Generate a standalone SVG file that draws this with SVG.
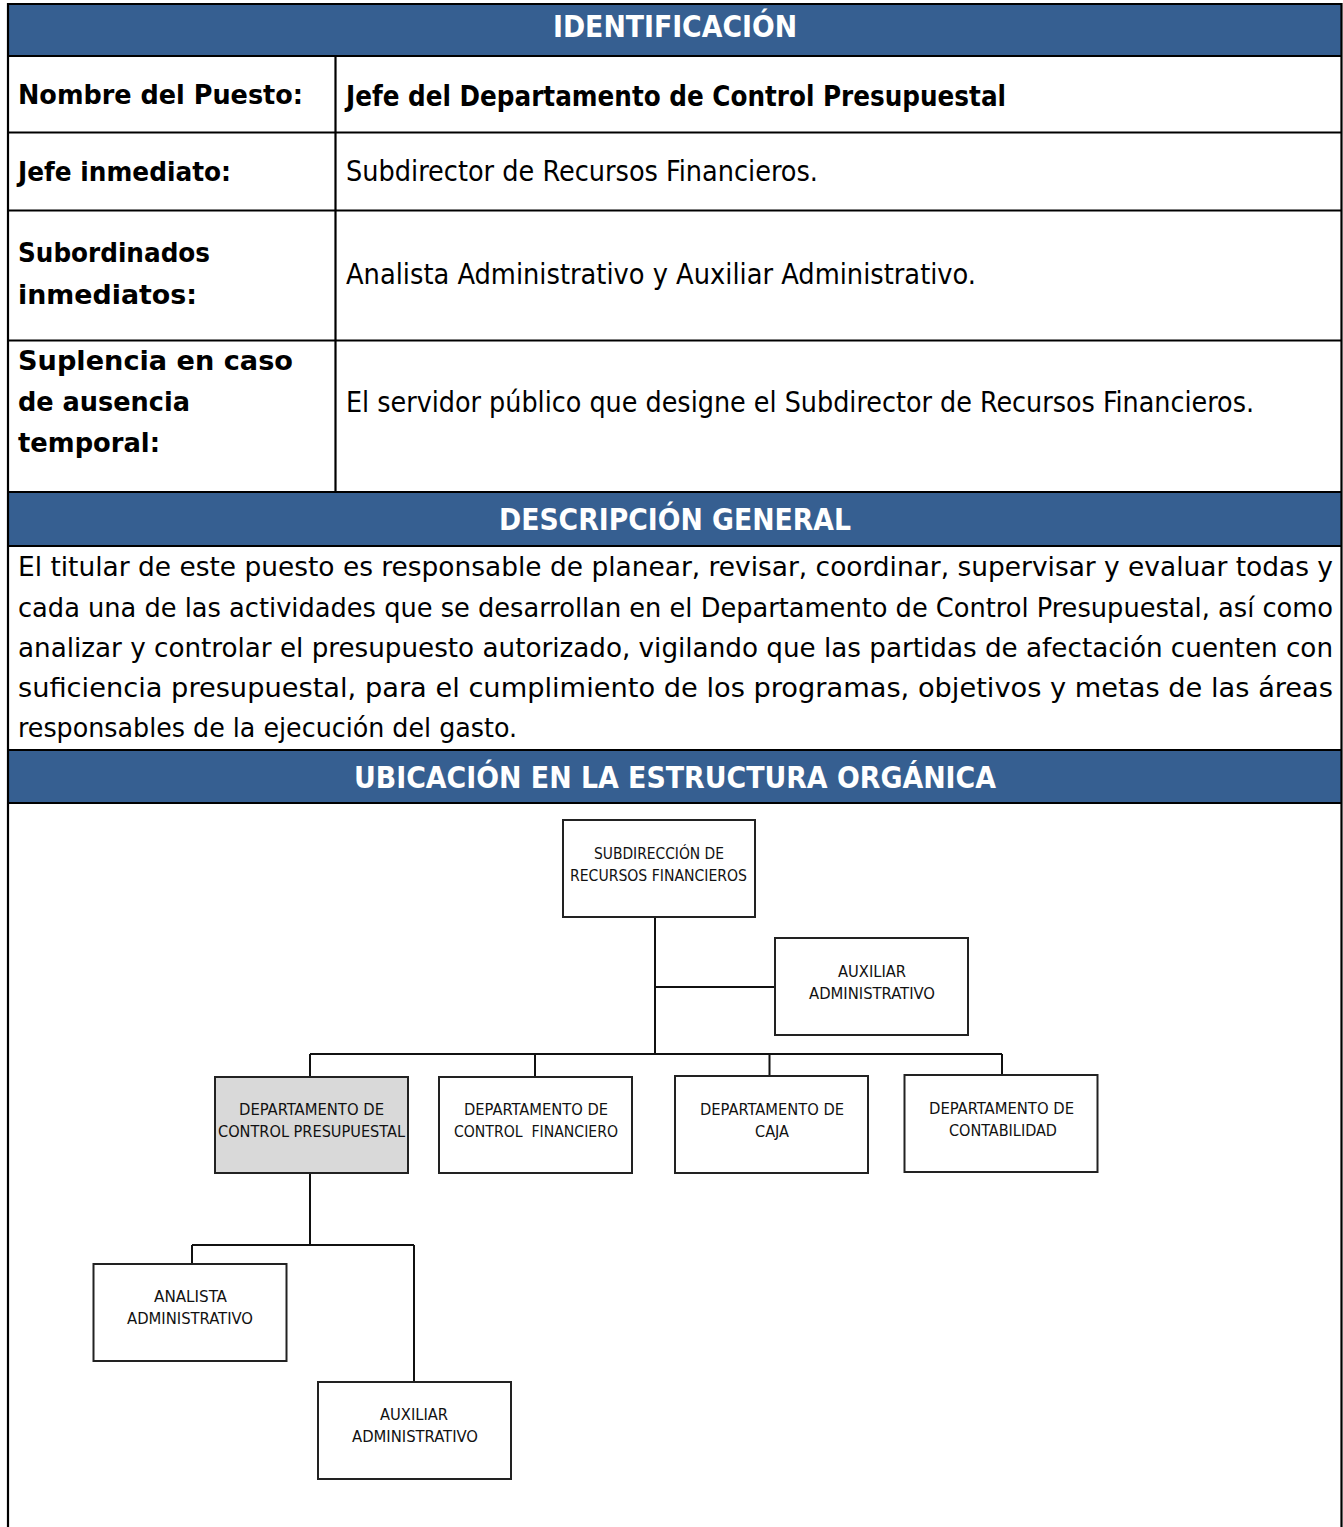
<svg xmlns="http://www.w3.org/2000/svg" width="1343" height="1527" viewBox="0 0 1343 1527">
<style>
.band{fill:#365F91}
.grid{stroke:#000;stroke-width:2.2;fill:none}
.hd{font-family:"DejaVu Sans Condensed","DejaVu Sans",sans-serif;font-weight:bold;font-size:31px;fill:#fff}
.lbl{font-family:"DejaVu Sans","Liberation Sans",sans-serif;font-weight:bold;font-size:27px;fill:#000}
.val{font-family:"Liberation Sans Narrow","DejaVu Sans Condensed",sans-serif;font-size:29px;fill:#000}
.desc{font-family:"Liberation Sans Narrow","DejaVu Sans Condensed",sans-serif;font-size:27px;fill:#000}
.valb{font-family:"DejaVu Sans Condensed","DejaVu Sans",sans-serif;font-weight:bold;font-size:28px;fill:#000}
.box{fill:#fff;stroke:#222;stroke-width:2}
.sel{fill:#D9D9D9}
.bt{font-family:"Liberation Sans Narrow","DejaVu Sans Condensed",sans-serif;font-size:16px;fill:#111}
.con{stroke:#111;stroke-width:2;fill:none}
</style>
<rect width="1343" height="1527" fill="#fff"/>
<g id="table">
<rect class="band" x="8" y="4" width="1333" height="52"/>
<rect class="band" x="8" y="492" width="1333" height="54"/>
<rect class="band" x="8" y="750" width="1333" height="53"/>
<path class="grid" d="M8,4H1341.5M8,56H1341.5M8,132.5H1341.5M8,210.5H1341.5M8,340.5H1341.5M8,492H1341.5M8,546H1341.5M8,750H1341.5M8,803H1341.5M335.5,56V492"/>
<path class="grid" stroke-width="2.6" d="M8,3V1527M1341.5,3V1527"/>
<text class="hd" x="553" y="37" textLength="244" lengthAdjust="spacingAndGlyphs">IDENTIFICACIÓN</text>
<text class="lbl" x="18" y="104" textLength="285" lengthAdjust="spacingAndGlyphs">Nombre del Puesto:</text>
<text class="valb" x="346" y="106" textLength="660" lengthAdjust="spacingAndGlyphs">Jefe del Departamento de Control Presupuestal</text>
<text class="lbl" x="18" y="181" textLength="213" lengthAdjust="spacingAndGlyphs">Jefe inmediato:</text>
<text class="val" x="346" y="181" textLength="472" lengthAdjust="spacingAndGlyphs">Subdirector de Recursos Financieros.</text>
<text class="lbl" x="18" y="262" textLength="192" lengthAdjust="spacingAndGlyphs">Subordinados</text>
<text class="lbl" x="18" y="304" textLength="179" lengthAdjust="spacingAndGlyphs">inmediatos:</text>
<text class="val" x="346" y="284" textLength="630" lengthAdjust="spacingAndGlyphs">Analista Administrativo y Auxiliar Administrativo.</text>
<text class="lbl" x="18" y="370" textLength="275" lengthAdjust="spacingAndGlyphs">Suplencia en caso</text>
<text class="lbl" x="18" y="411" textLength="172" lengthAdjust="spacingAndGlyphs">de ausencia</text>
<text class="lbl" x="18" y="452" textLength="142" lengthAdjust="spacingAndGlyphs">temporal:</text>
<text class="val" x="346" y="412" textLength="908" lengthAdjust="spacingAndGlyphs">El servidor público que designe el Subdirector de Recursos Financieros.</text>
<text class="hd" x="499" y="530" textLength="352" lengthAdjust="spacingAndGlyphs">DESCRIPCIÓN GENERAL</text>
<text class="desc" x="18" y="576" textLength="1315" lengthAdjust="spacingAndGlyphs">El titular de este puesto es responsable de planear, revisar, coordinar, supervisar y evaluar todas y</text>
<text class="desc" x="18" y="617" textLength="1315" lengthAdjust="spacingAndGlyphs">cada una de las actividades que se desarrollan en el Departamento de Control Presupuestal, así como</text>
<text class="desc" x="18" y="657" textLength="1315" lengthAdjust="spacingAndGlyphs">analizar y controlar el presupuesto autorizado, vigilando que las partidas de afectación cuenten con</text>
<text class="desc" x="18" y="697" textLength="1315" lengthAdjust="spacingAndGlyphs">suficiencia presupuestal, para el cumplimiento de los programas, objetivos y metas de las áreas</text>
<text class="desc" x="18" y="737" textLength="499" lengthAdjust="spacingAndGlyphs">responsables de la ejecución del gasto.</text>
<text class="hd" x="354" y="788" textLength="642" lengthAdjust="spacingAndGlyphs">UBICACIÓN EN LA ESTRUCTURA ORGÁNICA</text>
</g>
<g id="connectors">
<path class="con" d="M655,917V1054M655,987H775M310,1054H1002M310,1054V1077M535,1054V1077M769.5,1054V1076M1002,1054V1075M310,1173V1245M192,1245H414M192,1245V1264M414,1245V1382"/>
</g>
<g id="n-subdireccion">
<rect class="box" x="563" y="820" width="192" height="97"/>
<text class="bt" x="594" y="859" textLength="130" lengthAdjust="spacingAndGlyphs">SUBDIRECCIÓN DE</text>
<text class="bt" x="570" y="881" textLength="177" lengthAdjust="spacingAndGlyphs">RECURSOS FINANCIEROS</text>
</g>
<g id="n-auxiliar-1">
<rect class="box" x="775" y="938" width="193" height="97"/>
<text class="bt" x="838" y="977" textLength="68" lengthAdjust="spacingAndGlyphs">AUXILIAR</text>
<text class="bt" x="809" y="999" textLength="126" lengthAdjust="spacingAndGlyphs">ADMINISTRATIVO</text>
</g>
<g id="n-control-presupuestal">
<rect class="box sel" x="215" y="1077" width="193" height="96"/>
<text class="bt" x="239" y="1115" textLength="145" lengthAdjust="spacingAndGlyphs">DEPARTAMENTO DE</text>
<text class="bt" x="218" y="1137" textLength="187" lengthAdjust="spacingAndGlyphs">CONTROL PRESUPUESTAL</text>
</g>
<g id="n-control-financiero">
<rect class="box" x="439" y="1077" width="193" height="96"/>
<text class="bt" x="464" y="1115" textLength="144" lengthAdjust="spacingAndGlyphs">DEPARTAMENTO DE</text>
<text class="bt" x="454" y="1137" textLength="164" lengthAdjust="spacingAndGlyphs" xml:space="preserve">CONTROL  FINANCIERO</text>
</g>
<g id="n-caja">
<rect class="box" x="675" y="1076" width="193" height="97"/>
<text class="bt" x="700" y="1115" textLength="144" lengthAdjust="spacingAndGlyphs">DEPARTAMENTO DE</text>
<text class="bt" x="755" y="1137" textLength="34" lengthAdjust="spacingAndGlyphs">CAJA</text>
</g>
<g id="n-contabilidad">
<rect class="box" x="904.5" y="1075" width="193" height="97"/>
<text class="bt" x="929" y="1114" textLength="145" lengthAdjust="spacingAndGlyphs">DEPARTAMENTO DE</text>
<text class="bt" x="949" y="1136" textLength="108" lengthAdjust="spacingAndGlyphs">CONTABILIDAD</text>
</g>
<g id="n-analista">
<rect class="box" x="93.5" y="1264" width="193" height="97"/>
<text class="bt" x="154" y="1302" textLength="73" lengthAdjust="spacingAndGlyphs">ANALISTA</text>
<text class="bt" x="127" y="1324" textLength="126" lengthAdjust="spacingAndGlyphs">ADMINISTRATIVO</text>
</g>
<g id="n-auxiliar-2">
<rect class="box" x="318" y="1382" width="193" height="97"/>
<text class="bt" x="380" y="1420" textLength="68" lengthAdjust="spacingAndGlyphs">AUXILIAR</text>
<text class="bt" x="352" y="1442" textLength="126" lengthAdjust="spacingAndGlyphs">ADMINISTRATIVO</text>
</g>
</svg>
